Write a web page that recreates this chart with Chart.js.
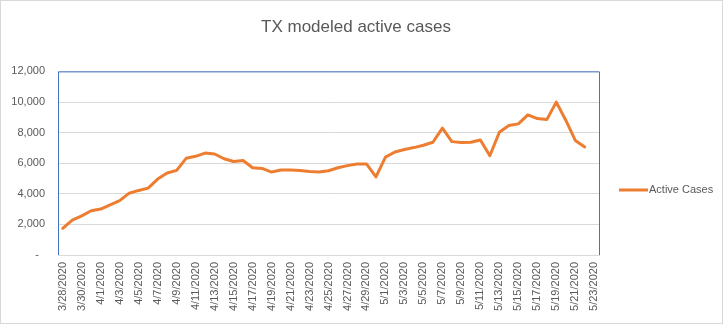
<!DOCTYPE html>
<html>
<head>
<meta charset="utf-8">
<script src="https://cdn.jsdelivr.net/npm/chart.js@4"></script>
<style>
  html, body { margin: 0; padding: 0; background: #fff; }
  #wrap { width: 723px; height: 324px; position: relative; }
</style>
</head>
<body>
<div id="wrap"><canvas id="casesChart" width="723" height="324"></canvas></div>
<script>
// Dates on the category axis (one per day)
const dates = [
    '3/28/2020', '3/29/2020', '3/30/2020', '3/31/2020', '4/1/2020', '4/2/2020', '4/3/2020',
    '4/4/2020', '4/5/2020', '4/6/2020', '4/7/2020', '4/8/2020', '4/9/2020', '4/10/2020',
    '4/11/2020', '4/12/2020', '4/13/2020', '4/14/2020', '4/15/2020', '4/16/2020', '4/17/2020',
    '4/18/2020', '4/19/2020', '4/20/2020', '4/21/2020', '4/22/2020', '4/23/2020', '4/24/2020',
    '4/25/2020', '4/26/2020', '4/27/2020', '4/28/2020', '4/29/2020', '4/30/2020', '5/1/2020',
    '5/2/2020', '5/3/2020', '5/4/2020', '5/5/2020', '5/6/2020', '5/7/2020', '5/8/2020',
    '5/9/2020', '5/10/2020', '5/11/2020', '5/12/2020', '5/13/2020', '5/14/2020', '5/15/2020',
    '5/16/2020', '5/17/2020', '5/18/2020', '5/19/2020', '5/20/2020', '5/21/2020', '5/22/2020',
    '5/23/2020'
];

// Modeled active cases (no value for the last day)
const activeCases = [
    1740, 2280, 2560, 2890, 3000, 3270, 3550, 4040, 4220, 4370,
    4960, 5360, 5530, 6320, 6450, 6660, 6600, 6290, 6110, 6180,
    5700, 5660, 5420, 5550, 5550, 5530, 5460, 5420, 5510, 5700,
    5840, 5950, 5950, 5100, 6400, 6730, 6900, 7020, 7170, 7370,
    8290, 7410, 7360, 7370, 7520, 6490, 8020, 8460, 8570, 9160,
    8920, 8850, 9990, 8810, 7490, 7060, null
];

const yTicks = [0, 2000, 4000, 6000, 8000, 10000, 12000];

const seriesName = 'Active Cases';
const lineColor = '#ED7D31';
const textColor = '#595959';
const fontFamily = '"Liberation Sans", Arial, sans-serif';

// Outer border, blue plot frame and the legend on the right
const framePlugin = {
    id: 'frame',
    afterLayout(chart) {
        // centre the title over the whole chart, not just the plot part
        const t = chart.titleBlock;
        if (t) {
            t.left = 0;
            t.right = chart.width - 11;
            t.width = t.right - t.left;
        }
    },
    beforeDatasetsDraw(chart) {
        const { ctx, chartArea: a } = chart;
        ctx.save();
        ctx.strokeStyle = '#4472C4';
        ctx.lineWidth = 1;
        ctx.beginPath();
        ctx.moveTo(a.left + 0.5, a.bottom);
        ctx.lineTo(a.left + 0.5, a.top + 0.5);
        ctx.lineTo(a.right + 0.5, a.top + 0.5);
        ctx.lineTo(a.right + 0.5, a.bottom);
        ctx.stroke();
        ctx.restore();
    },
    afterDraw(chart) {
        const { ctx, chartArea: a } = chart;
        ctx.save();
        ctx.strokeStyle = '#D9D9D9';
        ctx.lineWidth = 1;
        ctx.strokeRect(0.5, 0.5, chart.width - 1, chart.height - 1);

        // legend
        const ly = Math.round((a.top + a.bottom) / 2) + 27;
        ctx.strokeStyle = lineColor;
        ctx.lineWidth = 3;
        ctx.beginPath();
        ctx.moveTo(a.right + 20, ly);
        ctx.lineTo(a.right + 49, ly);
        ctx.stroke();
        ctx.fillStyle = textColor;
        ctx.font = '11px ' + fontFamily;
        ctx.textBaseline = 'middle';
        ctx.textAlign = 'left';
        ctx.fillText(seriesName, a.right + 50, ly);
        ctx.restore();
    }
};

const ctx = document.getElementById('casesChart').getContext('2d');
const casesChart = new Chart(ctx, {
    type: 'line',
    data: {
        labels: dates,
        datasets: [{
            label: seriesName,
            data: activeCases,
            borderColor: lineColor,
            backgroundColor: lineColor,
            borderWidth: 3,
            borderJoinStyle: 'round',
            borderCapStyle: 'round',
            pointRadius: 0,
            tension: 0,
            fill: false
        }]
    },
    options: {
        responsive: false,
        animation: false,
        layout: { padding: { left: 0, right: 124, top: 0, bottom: 0 } },
        scales: {
            x: {
                type: 'category',
                offset: true,
                grid: { display: false, drawTicks: false },
                border: { display: true, color: '#D9D9D9' },
                ticks: {
                    autoSkip: false,
                    maxRotation: 90,
                    minRotation: 90,
                    padding: 7,
                    color: textColor,
                    font: { family: fontFamily, size: 11 },
                    callback: function (value, index) {
                        return index % 2 === 0 ? this.getLabelForValue(value) : '';
                    }
                },
                afterFit(scale) { scale.height = 69; }
            },
            y: {
                min: yTicks[0],
                max: yTicks[yTicks.length - 1],
                afterBuildTicks(scale) { scale.ticks = yTicks.map(v => ({ value: v })); },
                grid: {
                    drawTicks: false,
                    color: '#D9D9D9',
                    lineWidth: 1
                },
                border: { display: false },
                ticks: {
                    padding: 13,
                    color: textColor,
                    font: { family: fontFamily, size: 11 },
                    callback: (v) => v === 0 ? '-  ' : v.toLocaleString('en-US')
                },
                afterFit(scale) { scale.width = 58; }
            }
        },
        plugins: {
            legend: { display: false },
            tooltip: { enabled: false },
            title: {
                display: true,
                text: 'TX modeled active cases',
                color: textColor,
                font: { family: fontFamily, size: 17, weight: 'normal' },
                padding: { top: 17, bottom: 34 }
            }
        }
    },
    plugins: [framePlugin]
});
</script>
</body>
</html>
